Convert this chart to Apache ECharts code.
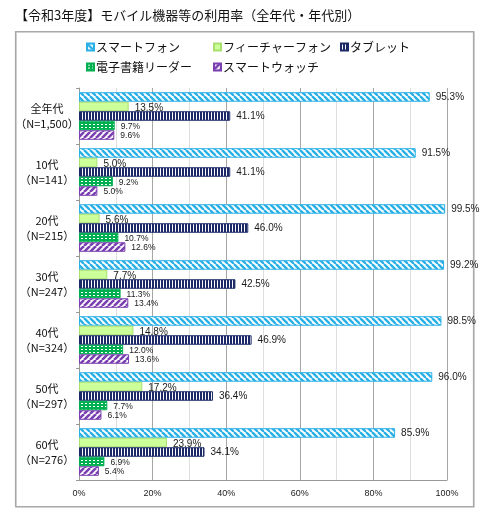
<!DOCTYPE html>
<html><head><meta charset="utf-8">
<script src="https://cdn.jsdelivr.net/npm/echarts@6/dist/echarts.min.js"></script>
<style>html,body{margin:0;padding:0;background:#fff}#c{width:488px;height:522px}</style>
</head><body><div id="c"></div>
<script>
const categories = ['全年代\n（N=1,500）','10代\n（N=141）','20代\n（N=215）','30代\n（N=247）','40代\n（N=324）','50代\n（N=297）','60代\n（N=276）'];
const seriesNames = ['スマートフォン','フィーチャーフォン','タブレット','電子書籍リーダー','スマートウォッチ'];
const smartphone = [95.3, 91.5, 99.5, 99.2, 98.5, 96.0, 85.9];
const featurePhone = [13.5, 5.0, 5.6, 7.7, 14.8, 17.2, 23.9];
const tablet = [41.1, 41.1, 46.0, 42.5, 46.9, 36.4, 34.1];
const ebook = [9.7, 9.2, 10.7, 11.3, 12.0, 7.7, 6.9];
const smartwatch = [9.6, 5.0, 12.6, 13.4, 13.6, 6.1, 5.4];
const xTicks = [0, 20, 40, 60, 80, 100];

function pat(w, h, draw) {
  const c = document.createElement('canvas');
  c.width = w; c.height = h;
  draw(c.getContext('2d'), w, h);
  return { image: c, repeat: 'repeat' };
}
const cBlue = '#2ab0e6', cGreenL = '#ccff99', cNavy = '#1b2a66', cGreen = '#00b050', cPurple = '#7a3fb0';
const pBlue = pat(6, 6, (g, w, h) => {
  g.fillStyle = '#fff'; g.fillRect(0, 0, w, h);
  g.strokeStyle = cBlue; g.lineWidth = 2.4;
  for (let k = -1; k <= 1; k++) { g.beginPath(); g.moveTo(k * 6, 0); g.lineTo(k * 6 + 6, 6); g.stroke(); }
});
const pNavy = pat(3, 4, (g, w, h) => {
  g.fillStyle = cNavy; g.fillRect(0, 0, w, h);
  g.fillStyle = '#fff'; g.fillRect(1, 0, 1, h);
});
const pGreen = pat(4, 3, (g, w, h) => {
  g.fillStyle = cGreen; g.fillRect(0, 0, w, h);
  g.fillStyle = '#fff'; g.fillRect(1, 1, 2, 1);
});
const pPurple = pat(6, 6, (g, w, h) => {
  g.fillStyle = '#fff'; g.fillRect(0, 0, w, h);
  g.strokeStyle = cPurple; g.lineWidth = 2.6;
  for (let k = -1; k <= 1; k++) { g.beginPath(); g.moveTo(k * 6, 6); g.lineTo(k * 6 + 6, 0); g.stroke(); }
});

const valuesList = [smartphone, featurePhone, tablet, ebook, smartwatch];
const fills = [pBlue, cGreenL, pNavy, pGreen, pPurple];
const borders = [cBlue, '#a8e070', cNavy, cGreen, cPurple];
const labelSizes = [10, 10, 10, 8.5, 8.5];
const labelOffsets = [[0, 0], [0, 2], [0, 0], [0, 1], [0, 1]];

const chart = echarts.init(document.getElementById('c'), null, { renderer: 'canvas' });
const font = '"Noto Sans CJK JP", "Liberation Sans", sans-serif';
const numFont = '"Liberation Sans", Arial, sans-serif';

const series = seriesNames.map((name, i) => ({
  name, type: 'bar',
  data: valuesList[i],
  barGap: '0%', barCategoryGap: '15%',
  itemStyle: { color: fills[i], borderColor: borders[i], borderWidth: 1 },
  label: {
    show: true, position: 'right', distance: 6,
    formatter: p => p.value.toFixed(1) + '%',
    fontSize: labelSizes[i], color: '#1a1a1a', fontFamily: numFont,
    offset: labelOffsets[i]
  },
  emphasis: { disabled: true },
  animation: false
}));

const legendPos = [[86, 41], [213, 41], [340, 41], [86, 61], [213, 61]];
const legends = seriesNames.map((n, i) => ({
  data: [n], left: legendPos[i][0], top: legendPos[i][1],
  itemWidth: 7, itemHeight: 7, itemGap: 0, icon: 'rect',
  textStyle: { fontSize: 12, color: '#111', fontFamily: font, padding: [0, 0, 0, -3] },
  selectedMode: false, padding: 0
}));

chart.setOption({
  animation: false,
  textStyle: { fontFamily: font },
  graphic: [
    { type: 'rect', shape: { x: 16, y: 32, width: 458, height: 475 }, style: { fill: 'none', stroke: '#c4c4c4', lineWidth: 1.5 }, z: -2 },
    { type: 'rect', shape: { x: 15.5, y: 31.5, width: 458, height: 475 }, style: { fill: 'none', stroke: '#a8a8a8', lineWidth: 1.2 }, z: -1 },
    { type: 'text', left: 15, top: 9, style: { text: '【令和3年度】モバイル機器等の利用率（全年代・年代別）', fontSize: 13, fill: '#111', fontFamily: font } }
  ],
  legend: legends,
  grid: { left: 79, right: 41, top: 88, bottom: 42, containLabel: false },
  xAxis: {
    type: 'value', min: 0, max: 100, interval: 20,
    axisLine: { show: true, lineStyle: { color: '#999' } },
    axisTick: { show: false },
    axisLabel: { formatter: v => xTicks.includes(v) ? v + '%' : '', fontSize: 9, color: '#222', fontFamily: numFont, margin: 9 },
    splitLine: { show: true, lineStyle: { color: '#a6a6a6', width: 1 } },
    minorTick: { show: false, splitNumber: 2 },
    minorSplitLine: { show: true, lineStyle: { color: '#dedede', width: 1 } }
  },
  yAxis: {
    type: 'category', data: categories, inverse: true,
    axisLine: { show: true, lineStyle: { color: '#999' } },
    axisTick: { show: true, length: 3, lineStyle: { color: '#999' } },
    axisLabel: { fontSize: 11, color: '#111', align: 'center', margin: 32, lineHeight: 15, fontFamily: font }
  },
  series
});
</script></body></html>
